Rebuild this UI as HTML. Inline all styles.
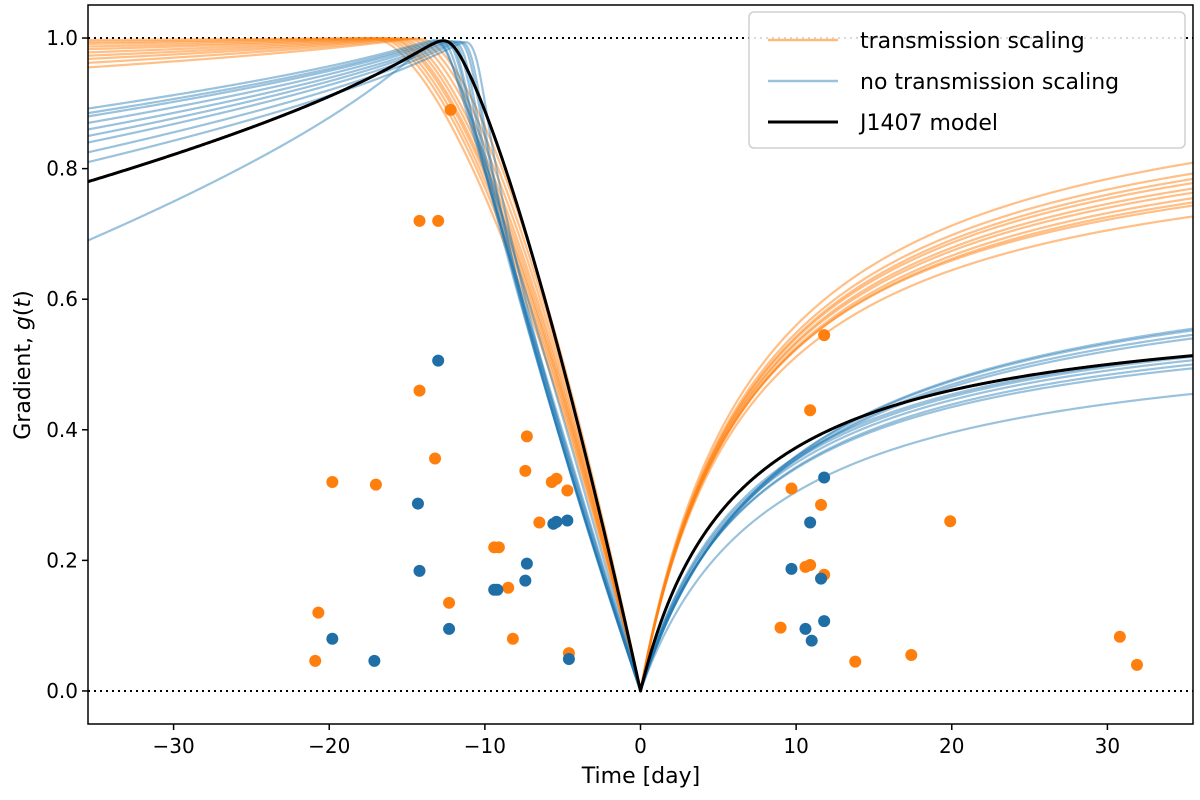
<!DOCTYPE html>
<html><head><meta charset="utf-8"><style>
body{margin:0;background:#fff;}
svg text{font-family:"DejaVu Sans","Liberation Sans",sans-serif;}
</style></head><body>
<svg id="chart" width="1200" height="795" xmlns="http://www.w3.org/2000/svg">
<g id="plot"></g>
</svg>
<script>
// ---- data ----
const xTicks = [-30,-20,-10,0,10,20,30];
const yTicks = [0.0,0.2,0.4,0.6,0.8,1.0];
// model curve params: peak position D (days before), descent exponent q, value at t=-35.5, right-side amplitude A, right-side scale b
const orangeD   = [14.0,14.4,14.8,15.2,15.5,15.8,16.0,16.3,16.6,17.0];
const orangeQ   = [1.6,1.6,1.6,1.6,1.6,1.6,1.6,1.6,1.6,1.6];
const orangeG35 = [0.955,0.962,0.968,0.973,0.978,0.983,0.987,0.991,0.994,0.997];
const orangeA   = [0.87,0.89,0.90,0.91,0.92,0.93,0.94,0.95,0.96,0.98];
const orangeB   = [7.0,7.0,7.2,7.3,7.3,7.4,7.4,7.5,7.5,7.5];
const blueD   = [12.8,10.5,10.8,11.0,11.3,11.5,11.8,12.0,12.3,12.6];
const blueQ   = [1.1,0.75,0.75,0.78,0.8,0.82,0.85,0.9,0.95,1.0];
const blueG35 = [0.69,0.81,0.825,0.84,0.85,0.86,0.87,0.88,0.885,0.892];
const blueA   = [0.564,0.60,0.61,0.615,0.62,0.62,0.68,0.69,0.70,0.705];
const blueB   = [8.5,7.6,7.8,7.6,7.5,7.3,9.2,9.4,9.5,9.6];
const blackD = 12.4, blackQ = 1.34, blackG35 = 0.78, blackA = 0.603, blackB = 6.18;
const orangeT = [-20.9,-20.7,-19.8,-17.0,-14.2,-13.0,-12.2,-14.2,-13.2,-12.3,-9.4,-9.1,-8.5,-8.2,-7.3,-7.4,-6.5,-5.7,-5.4,-4.7,-4.6,9.7,9.0,10.9,11.8,11.6,10.6,10.9,11.8,19.9,13.8,17.4,30.8,31.9];
const orangeG = [0.046,0.12,0.32,0.316,0.72,0.72,0.89,0.46,0.356,0.135,0.22,0.22,0.158,0.08,0.39,0.337,0.258,0.32,0.325,0.307,0.058,0.31,0.097,0.43,0.545,0.285,0.19,0.193,0.178,0.26,0.045,0.055,0.083,0.04];
const blueT = [-19.8,-17.1,-14.3,-14.2,-13.0,-12.3,-9.4,-9.2,-7.3,-7.4,-5.6,-5.4,-4.7,-4.6,9.7,10.6,10.9,11.0,11.8,11.6,11.8];
const blueG = [0.08,0.046,0.287,0.184,0.506,0.095,0.155,0.155,0.195,0.169,0.256,0.259,0.261,0.049,0.187,0.095,0.258,0.077,0.327,0.172,0.107];

// ---- axes ----
const L=88,R=1193,T=5,B=724;
const xMin=-35.5,xMax=35.5,yMin=-0.0506,yMax=1.0506;
const X=t=>L+(t-xMin)/(xMax-xMin)*(R-L);
const Y=g=>B-(g-yMin)/(yMax-yMin)*(B-T);
const NS='http://www.w3.org/2000/svg';
const svg=document.getElementById('chart');
const plot=document.getElementById('plot');
function mk(tag,attrs,parent){const e=document.createElementNS(NS,tag);for(const k in attrs)e.setAttribute(k,attrs[k]);(parent||svg).appendChild(e);return e;}

function rawModel(t,D,q,g35,A,b){
  if(t>=0) return A*t/(t+b);
  const s=-t;
  if(s<=D) return 1-Math.pow(1-s/D,q);
  const w=2,p=0.7;
  const f=u=>Math.pow(Math.sqrt(u*u+w*w)-w,p);
  const k=(1-g35)/f(35.5-D);
  return 1-k*f(s-D);
}
function model(t,D,q,g35,A,b){
  if(t>-2.5) return rawModel(t,D,q,g35,A,b);
  // gentle smoothing to round the peak
  let sum=0,n=0;
  for(let j=-10;j<=10;j++){const u=t+j*0.09;const wgt=11-Math.abs(j);sum+=wgt*rawModel(Math.min(u,0),D,q,g35,A,b);n+=wgt;}
  return sum/n;
}
function curve(D,q,g35,A,b,color,width,opacity,name){
  let d='';
  for(let i=0;i<=1420;i++){const t=xMin+i*(xMax-xMin)/1420;d+=(i?'L':'M')+X(t).toFixed(2)+','+Y(model(t,D,q,g35,A,b)).toFixed(2);}
  const p=mk('path',{d:d,fill:'none',stroke:color,'stroke-width':width,'stroke-opacity':opacity,'stroke-linejoin':'round'},plot);
  
  
}
const defs=mk('defs',{});
const cp=mk('clipPath',{id:'clip'},defs);
mk('rect',{x:L,y:T,width:R-L,height:B-T},cp);
plot.setAttribute('clip-path','url(#clip)');

[0,1].forEach(v=>{
  const l=mk('line',{x1:L,x2:R,y1:Y(v),y2:Y(v),stroke:'#000','stroke-width':2,'stroke-dasharray':'2,4'},plot);
  
  
});
for(let i=0;i<orangeD.length;i++) curve(orangeD[i],orangeQ[i],orangeG35[i],orangeA[i],orangeB[i],'#ff7f0e',2.2,0.5,'transmission-scaling-curve');
for(let i=0;i<blueD.length;i++) curve(blueD[i],blueQ[i],blueG35[i],blueA[i],blueB[i],'#1f77b4',2.2,0.45,'no-transmission-scaling-curve');
curve(blackD,blackQ,blackG35,blackA,blackB,'#000',3,1,'j1407-model-curve');
for(let i=0;i<orangeT.length;i++){
  const c=mk('circle',{cx:X(orangeT[i]),cy:Y(orangeG[i]),r:6,fill:'#ff7f0e'},plot);
  
  
}
for(let i=0;i<blueT.length;i++){
  const c=mk('circle',{cx:X(blueT[i]),cy:Y(blueG[i]),r:6,fill:'#1f6ea6'},plot);
  
  
}
const fr=mk('rect',{x:L,y:T,width:R-L,height:B-T,fill:'none',stroke:'#000','stroke-width':1.5});


xTicks.forEach(v=>{
  const tk=mk('line',{x1:X(v),x2:X(v),y1:B,y2:B+6,stroke:'#000','stroke-width':1.5});
  
  
  const tx=mk('text',{x:X(v),y:B+29,'font-size':20,'text-anchor':'middle',fill:'#000'});
  tx.textContent=(v<0?'\u2212'+(-v):v);
  
  
});
yTicks.forEach(v=>{
  const tk=mk('line',{x1:L-6,x2:L,y1:Y(v),y2:Y(v),stroke:'#000','stroke-width':1.5});
  
  
  const tx=mk('text',{x:L-10,y:Y(v)+7,'font-size':20,'text-anchor':'end',fill:'#000'});
  tx.textContent=v.toFixed(1);
  
  
});
const xt=mk('text',{x:641,y:783,'font-size':22,'text-anchor':'middle',fill:'#000'});
xt.textContent='Time [day]';


const yt=mk('text',{x:0,y:0,'font-size':22,'text-anchor':'middle',fill:'#000',transform:'translate(30,365) rotate(-90)'});
yt.innerHTML='Gradient, <tspan font-style="italic">g</tspan>(<tspan font-style="italic">t</tspan>)';


const lg=mk('g',{});


mk('rect',{x:749,y:12,width:436,height:136,rx:5,fill:'#fff','fill-opacity':0.85,stroke:'#d0d0d0','stroke-width':1.5},lg);
const entries=[['transmission scaling','#ff7f0e',0.55,2.5],['no transmission scaling','#1f77b4',0.45,2.5],['J1407 model','#000',1,3]];
entries.forEach((e,i)=>{
  const y=40+i*41;
  const g=mk('g',{},lg);
  
  
  mk('line',{x1:768,x2:838,y1:y,y2:y,stroke:e[1],'stroke-opacity':e[2],'stroke-width':e[3]},g);
  const t=mk('text',{x:860,y:y+8,'font-size':22,fill:'#000'},g);
  t.textContent=e[0];
});
</script>
</body></html>
